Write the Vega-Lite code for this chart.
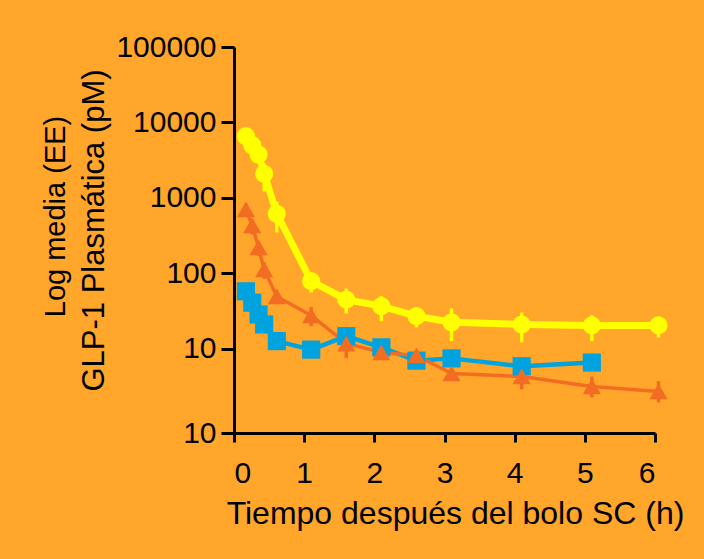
{
  "$schema": "https://vega.github.io/schema/vega-lite/v6.json",
  "width": 421,
  "height": 386,
  "autosize": "none",
  "padding": {"left": 234, "top": 47, "right": 49, "bottom": 126},
  "background": "#FFA62B",
  "config": {
    "font": "Liberation Sans",
    "view": {"stroke": null},
    "axis": {"labelColor": "black", "titleColor": "black", "domainColor": "black", "tickColor": "black", "grid": false, "titleFontWeight": "normal"}
  },
  "data": {
    "values": [
      {"s": "C", "t": 0.17, "v": 58, "lo": 50, "hi": 66},
      {"s": "C", "t": 0.26, "v": 41, "lo": 35, "hi": 47},
      {"s": "C", "t": 0.35, "v": 28.6, "lo": 24.5, "hi": 33},
      {"s": "C", "t": 0.43, "v": 21.1, "lo": 18.5, "hi": 24},
      {"s": "C", "t": 0.61, "v": 12.7, "lo": 11, "hi": 14.5},
      {"s": "C", "t": 1.1, "v": 9.8, "lo": 8.6, "hi": 11},
      {"s": "C", "t": 1.6, "v": 14.8, "lo": 12.8, "hi": 17},
      {"s": "C", "t": 2.1, "v": 10.5, "lo": 9.2, "hi": 11.8},
      {"s": "C", "t": 2.6, "v": 7.0, "lo": 6.1, "hi": 7.9},
      {"s": "C", "t": 3.1, "v": 7.5, "lo": 6.6, "hi": 8.4},
      {"s": "C", "t": 4.1, "v": 5.9, "lo": 5.2, "hi": 6.6},
      {"s": "C", "t": 5.1, "v": 6.6, "lo": 5.8, "hi": 7.4},
      {"s": "B", "t": 0.17, "v": 705, "lo": 560, "hi": 850},
      {"s": "B", "t": 0.26, "v": 432, "lo": 330, "hi": 530},
      {"s": "B", "t": 0.35, "v": 221, "lo": 170, "hi": 270},
      {"s": "B", "t": 0.43, "v": 113, "lo": 85, "hi": 140},
      {"s": "B", "t": 0.61, "v": 49.6, "lo": 40, "hi": 60},
      {"s": "B", "t": 1.1, "v": 27.8, "lo": 20, "hi": 36},
      {"s": "B", "t": 1.6, "v": 11.8, "lo": 7.6, "hi": 16},
      {"s": "B", "t": 2.1, "v": 9.0, "lo": 7.8, "hi": 10.2},
      {"s": "B", "t": 2.6, "v": 8.2, "lo": 6.8, "hi": 9.6},
      {"s": "B", "t": 3.1, "v": 4.73, "lo": 4.2, "hi": 5.3},
      {"s": "B", "t": 4.1, "v": 4.32, "lo": 2.91, "hi": 5.7},
      {"s": "B", "t": 5.1, "v": 3.19, "lo": 2.28, "hi": 4.32},
      {"s": "B", "t": 6.05, "v": 2.74, "lo": 1.96, "hi": 3.74},
      {"s": "A", "t": 0.17, "v": 6580, "lo": 5800, "hi": 7400},
      {"s": "A", "t": 0.26, "v": 5000, "lo": 4300, "hi": 5800},
      {"s": "A", "t": 0.35, "v": 3770, "lo": 3200, "hi": 4400},
      {"s": "A", "t": 0.43, "v": 2090, "lo": 1220, "hi": 2900},
      {"s": "A", "t": 0.61, "v": 618, "lo": 349, "hi": 890},
      {"s": "A", "t": 1.1, "v": 79, "lo": 56, "hi": 100},
      {"s": "A", "t": 1.6, "v": 45, "lo": 29.5, "hi": 63},
      {"s": "A", "t": 2.1, "v": 36.9, "lo": 23.3, "hi": 50},
      {"s": "A", "t": 2.6, "v": 27.2, "lo": 19.3, "hi": 36},
      {"s": "A", "t": 3.1, "v": 22.6, "lo": 12.7, "hi": 34.4},
      {"s": "A", "t": 4.1, "v": 21.1, "lo": 12.2, "hi": 30.4},
      {"s": "A", "t": 5.1, "v": 20.5, "lo": 12.7, "hi": 28},
      {"s": "A", "t": 6.05, "v": 20.5, "lo": 14.2, "hi": 27}
    ]
  },
  "encoding": {
    "x": {
      "field": "t", "type": "quantitative",
      "scale": {"domain": [0, 6], "nice": false, "zero": false},
      "axis": {
        "values": [0, 1, 2, 3, 4, 5, 6],
        "format": "d",
        "tickSize": 9, "tickWidth": 3, "domainWidth": 3,
        "labelFontSize": 30, "labelPadding": 16,
        "title": "Tiempo después del bolo SC (h)",
        "titleFontSize": 32, "titleX": 221, "titleY": 65,
        "titleBaseline": "top", "titleAlign": "center"
      }
    },
    "color": {"field": "s", "type": "nominal", "scale": {"domain": ["C", "B", "A"], "range": ["#00A3DD", "#F26D21", "#FFFF00"]}, "legend": null}
  },
  "layer": [
    {
      "transform": [{"filter": "datum.s === 'C'"}],
      "mark": {"type": "line", "strokeWidth": 4.5, "strokeJoin": "round"},
      "encoding": {
        "y": {
          "field": "v", "type": "quantitative",
          "scale": {"type": "log", "domain": [0.77, 100000], "nice": false},
          "axis": {
            "orient": "left",
            "values": [0.77, 10, 100, 1000, 10000, 100000],
            "labelExpr": "datum.value < 1 ? '10' : format(datum.value, 'd')",
            "tickSize": 13, "tickWidth": 3, "domainWidth": 3,
            "labelFontSize": 30, "labelPadding": 5,
            "title": "GLP-1 Plasmática (pM)",
            "titleFontSize": 31, "titleX": -131, "titleY": 183,
            "titleBaseline": "alphabetic", "titleAngle": 270, "titleAlign": "center"
          }
        }
      }
    },
    {
      "transform": [{"filter": "datum.s === 'B'"}],
      "mark": {"type": "line", "strokeWidth": 3.5, "strokeJoin": "round"},
      "encoding": {"y": {"field": "v", "type": "quantitative", "axis": null}}
    },
    {
      "transform": [{"filter": "datum.s === 'A'"}],
      "mark": {"type": "line", "strokeWidth": 7, "strokeJoin": "round"},
      "encoding": {"y": {"field": "v", "type": "quantitative", "axis": null}}
    },
    {
      "mark": {"type": "rule", "strokeWidth": 3.5},
      "encoding": {
        "y": {
          "field": "lo", "type": "quantitative",
          "axis": {
            "orient": "left", "labels": false, "ticks": false, "domain": false,
            "title": "Log media (EE)", "titleFontSize": 29,
            "titleX": -170, "titleY": 169, "titleBaseline": "alphabetic",
            "titleAngle": 270, "titleAlign": "center"
          }
        },
        "y2": {"field": "hi"}
      }
    },
    {
      "mark": {"type": "point", "filled": true, "opacity": 1, "size": 330, "strokeWidth": 0},
      "encoding": {
        "y": {"field": "v", "type": "quantitative", "axis": null},
        "shape": {"field": "s", "type": "nominal", "scale": {"domain": ["C", "B", "A"], "range": ["square", "triangle-up", "circle"]}, "legend": null}
      }
    }
  ],
  "resolve": {"axis": {"y": "independent"}}
}
